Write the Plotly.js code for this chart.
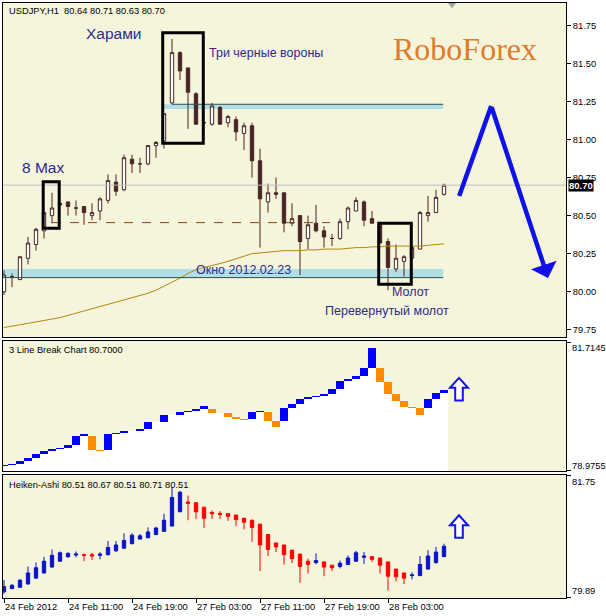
<!DOCTYPE html>
<html><head><meta charset="utf-8">
<script src="https://cdn.plot.ly/plotly-3.0.1.min.js"></script>
<style>html,body{margin:0;padding:0;background:#fff}#chart{width:606px;height:616px}</style>
</head><body><div id="chart"></div>
<script>
// ---- data (USDJPY H1, 56 bars) ----
const barIdx = [0,1,2,3,4,5,6,7,8,9,10,11,12,13,14,15,16,17,18,19,20,21,22,23,24,25,26,27,28,29,30,31,32,33,34,35,36,37,38,39,40,41,42,43,44,45,46,47,48,49,50,51,52,53,54,55];
const timeTickIdx = [0,8,16,24,32,40,48];
const timeLabels = ['24 Feb 2012','24 Feb 11:00','24 Feb 19:00','27 Feb 03:00','27 Feb 11:00','27 Feb 19:00','28 Feb 03:00'];
const priceTicks = [79.75,80.00,80.25,80.50,80.75,81.00,81.25,81.50,81.75];

const candleOpen  = [80.00,80.10,80.08,80.22,80.31,80.40,80.50,80.58,80.59,80.55,80.56,80.50,80.53,80.60,80.72,80.67,80.87,80.84,80.84,80.96,80.99,81.24,81.57,81.47,81.30,81.11,81.10,81.21,81.11,81.13,81.04,81.09,80.86,80.59,80.65,80.65,80.45,80.50,80.35,80.45,80.40,80.35,80.35,80.46,80.53,80.59,80.48,80.44,80.33,80.15,80.20,80.22,80.28,80.50,80.52,80.64];
const candleHigh  = [80.14,80.12,80.23,80.36,80.42,80.52,80.65,80.58,80.59,80.60,80.56,80.58,80.62,80.77,80.77,80.90,80.90,80.88,80.96,80.99,81.17,81.66,81.58,81.47,81.31,81.115,81.24,81.22,81.16,81.15,81.11,81.11,80.94,80.71,80.75,80.65,80.58,80.50,80.50,80.57,80.43,80.38,80.48,80.56,80.62,80.60,80.53,80.46,80.35,80.31,80.24,80.30,80.53,80.63,80.67,80.71];
const candleLow   = [79.98,80.03,80.08,80.18,80.27,80.35,80.45,80.57,80.50,80.50,80.44,80.47,80.47,80.58,80.63,80.66,80.78,80.78,80.83,80.88,80.94,81.23,81.39,81.07,81.10,81.105,81.09,81.10,81.08,80.99,80.93,80.75,80.29,80.52,80.61,80.39,80.43,80.11,80.28,80.39,80.29,80.30,80.34,80.41,80.53,80.43,80.45,80.32,80.01,80.13,80.10,80.22,80.28,80.46,80.52,80.63];
const candleClose = [80.11,80.10,80.23,80.32,80.41,80.52,80.55,80.57,80.56,80.55,80.52,80.52,80.61,80.73,80.66,80.88,80.84,80.84,80.96,80.98,81.17,81.57,81.45,81.31,81.10,81.11,81.22,81.10,81.15,81.05,81.09,80.86,80.61,80.65,80.64,80.45,80.48,80.33,80.44,80.40,80.36,80.35,80.46,80.55,80.60,80.47,80.45,80.32,80.16,80.22,80.23,80.29,80.52,80.52,80.62,80.70];
const movingAvg   = [79.765,79.775,79.785,79.79,79.80,79.81,79.82,79.83,79.845,79.86,79.875,79.89,79.90,79.915,79.93,79.945,79.96,79.975,79.99,80.01,80.035,80.06,80.09,80.12,80.145,80.16,80.17,80.185,80.20,80.215,80.235,80.25,80.255,80.26,80.265,80.27,80.27,80.27,80.275,80.275,80.28,80.28,80.28,80.285,80.29,80.29,80.295,80.295,80.30,80.30,80.30,80.30,80.30,80.305,80.31,80.315];

// 3 line break bricks: start level -> end level (equal = no brick)
const lbFrom = [79.066,79.090,79.108,79.192,79.249,79.334,79.397,79.439,79.466,79.523,79.713,79.713,79.424,79.424,79.755,79.782,79.818,79.818,79.867,80.008,80.008,80.155,80.155,80.219,80.246,80.297,80.297,80.198,80.198,80.113,80.071,80.071,80.219,80.219,80.035,80.035,80.303,80.387,80.493,80.535,80.571,80.604,80.724,80.878,80.935,80.983,81.160,81.160,80.865,80.604,80.465,80.324,80.303,80.303,80.493,80.619];
const lbTo   = [79.090,79.108,79.192,79.249,79.334,79.397,79.439,79.466,79.523,79.713,79.755,79.424,79.397,79.755,79.782,79.818,79.818,79.867,80.008,80.008,80.155,80.155,80.219,80.246,80.297,80.345,80.198,80.198,80.113,80.071,80.050,80.219,80.246,80.035,79.903,80.303,80.387,80.493,80.535,80.571,80.604,80.724,80.878,80.935,80.983,81.160,81.588,80.865,80.604,80.465,80.324,80.303,80.162,80.493,80.619,80.690];

// Heiken-Ashi
const haOpen  = [79.97,80.02,80.04,80.09,80.18,80.26,80.35,80.44,80.51,80.535,80.54,80.54,80.53,80.54,80.60,80.64,80.71,80.78,80.80,80.85,80.90,80.98,81.20,81.35,81.34,81.27,81.19,81.175,81.17,81.15,81.10,81.07,81.01,80.85,80.72,80.69,80.61,80.55,80.44,80.42,80.43,80.38,80.36,80.39,80.44,80.50,80.51,80.49,80.43,80.32,80.26,80.22,80.22,80.32,80.42,80.51];
const haHigh  = [80.15,80.09,80.16,80.36,80.42,80.51,80.62,80.59,80.58,80.59,80.56,80.57,80.58,80.75,80.75,80.87,80.87,80.86,80.96,80.97,81.17,81.58,81.52,81.45,81.34,81.27,81.22,81.21,81.17,81.15,81.11,81.08,81.01,80.85,80.73,80.69,80.61,80.55,80.48,80.56,80.43,80.38,80.45,80.53,80.60,80.58,80.51,80.49,80.43,80.32,80.26,80.27,80.52,80.61,80.66,80.71];
const haLow   = [79.94,80.01,80.03,80.085,80.17,80.25,80.34,80.44,80.49,80.50,80.44,80.46,80.47,80.53,80.58,80.63,80.70,80.78,80.80,80.84,80.89,80.98,81.20,81.07,81.09,80.95,81.09,81.09,81.06,80.98,80.93,80.74,80.29,80.52,80.58,80.39,80.41,80.11,80.25,80.39,80.21,80.29,80.33,80.38,80.43,80.40,80.43,80.25,79.99,80.13,80.09,80.16,80.21,80.31,80.40,80.51];
const haClose = [80.05,80.07,80.15,80.26,80.34,80.44,80.53,80.57,80.56,80.55,80.53,80.52,80.55,80.65,80.69,80.76,80.84,80.83,80.89,80.95,81.07,81.42,81.50,81.33,81.20,81.10,81.17,81.16,81.13,81.08,81.04,80.96,80.69,80.62,80.66,80.54,80.48,80.36,80.39,80.45,80.35,80.34,80.41,80.49,80.57,80.52,80.47,80.38,80.21,80.20,80.18,80.23,80.39,80.52,80.58,80.67];

// ---- styling ----
const BG = '#f5f5dc';
const CANDLE = '#4a2525';
const TXT = '#2d2a8c';
const FONT = 'Liberation Sans, Arial, sans-serif';
const LB_MIN = 78.969, LB_MAX = 81.736;

const lbLow = lbFrom.map((v,i)=>Math.min(v, lbTo[i]));
const lbSize = lbFrom.map((v,i)=>Math.abs(lbTo[i]-v));
const lbColor = lbFrom.map((v,i)=> lbTo[i] >= v ? '#0000ff' : '#ff8c00');

const traces = [
  {type:'candlestick', x:barIdx, open:candleOpen, high:candleHigh, low:candleLow, close:candleClose,
   xaxis:'x', yaxis:'y', whiskerwidth:0, hoverinfo:'skip',
   increasing:{line:{color:CANDLE,width:1}, fillcolor:'#ffffff'},
   decreasing:{line:{color:CANDLE,width:1}, fillcolor:CANDLE}},
  {type:'scatter', mode:'lines', x:barIdx, y:movingAvg, xaxis:'x', yaxis:'y',
   line:{color:'#b8860b', width:1}, hoverinfo:'skip'},
  {type:'bar', x:barIdx, y:lbLow.map(v=>v-78.5), base:78.5, xaxis:'x2', yaxis:'y2',
   marker:{color:'#ffffff', line:{width:0}}, width:1, hoverinfo:'skip'},
  {type:'bar', x:barIdx, y:lbSize, base:lbLow, xaxis:'x2', yaxis:'y2',
   marker:{color:lbColor, line:{width:0}}, width:1, hoverinfo:'skip'},
  {type:'candlestick', x:barIdx, open:haOpen, high:haHigh, low:haLow, close:haClose,
   xaxis:'x3', yaxis:'y3', whiskerwidth:0, hoverinfo:'skip',
   increasing:{line:{color:'#0a14c8',width:1}, fillcolor:'#0a14c8'},
   decreasing:{line:{color:'#ff0000',width:1}, fillcolor:'#ff0000'}}
];

const xBase = {range:[-0.125,70.25], showgrid:false, zeroline:false, showline:true, mirror:true,
  linecolor:'#000', linewidth:1, fixedrange:true, rangeslider:{visible:false}};
const yBase = {side:'right', showgrid:false, zeroline:false, showline:true, mirror:true,
  linecolor:'#000', linewidth:1, ticks:'outside', ticklen:4, tickcolor:'#000', fixedrange:true,
  tickfont:{family:FONT, size:9.3, color:'#000'}};

const shapes = [
  // current price line
  {type:'line', xref:'paper', yref:'y', x0:0, x1:1, y0:80.70, y1:80.70, line:{color:'#c0c0c0', width:1}},
  // gap zone (Окно)
  {type:'rect', xref:'x', yref:'y', x0:-0.125, x1:54.9, y0:80.093, y1:80.150, fillcolor:'#b0e0e6', line:{width:0}, layer:'below'},
  {type:'line', xref:'x', yref:'y', x0:-0.125, x1:54.9, y0:80.093, y1:80.093, line:{color:'#2f4f4f', width:1}},
  // upper zone
  {type:'rect', xref:'x', yref:'y', x0:19.9, x1:54.9, y0:81.200, y1:81.231, fillcolor:'#b0e0e6', line:{width:0}, layer:'below'},
  {type:'line', xref:'x', yref:'y', x0:21, x1:54.9, y0:81.231, y1:81.231, line:{color:'#2f4f4f', width:1}},
  // dashed level
  {type:'line', xref:'x', yref:'y', x0:6, x1:40.75, y0:80.454, y1:80.454, line:{color:'#8b4513', width:1, dash:'dash'}},
  // pattern boxes
  {type:'rect', xref:'x', yref:'y', x0:4.9, x1:6.9, y0:80.417, y1:80.723, line:{color:'#000', width:3}},
  {type:'rect', xref:'x', yref:'y', x0:19.84, x1:24.91, y0:80.975, y1:81.701, line:{color:'#000', width:3}},
  {type:'rect', xref:'x', yref:'y', x0:46.84, x1:50.91, y0:80.049, y1:80.450, line:{color:'#000', width:3}},
  // forecast arrow first leg
  {type:'line', xref:'x', yref:'y', x0:56.9, y0:80.629, x1:60.9, y1:81.22, line:{color:'#1010e8', width:4.5}},
  // small gray marker at top
  {type:'path', xref:'x', yref:'y', path:'M 55.5,81.896 L 56.5,81.896 L 56,81.862 Z', fillcolor:'#a0a0a0', line:{width:0}},
  // hollow up arrows
  {type:'path', xref:'x2', yref:'y2', path:'M 56.875,80.95 L 58,80.74 L 57.35,80.74 L 57.35,80.47 L 56.4,80.47 L 56.4,80.74 L 55.75,80.74 Z',
   fillcolor:'#ffffff', line:{color:'#1414e6', width:2}},
  {type:'path', xref:'x3', yref:'y3', path:'M 56.875,81.146 L 58,80.992 L 57.35,80.992 L 57.35,80.802 L 56.4,80.802 L 56.4,80.992 L 55.75,80.992 Z',
   fillcolor:'#ffffff', line:{color:'#1414e6', width:2}}
];

const small = {family:FONT, size:9.3, color:'#000'};
const ann = (text,x,y,size)=>({text, x, y, xref:'x', yref:'y', showarrow:false, font:{family:FONT, size, color:TXT}});
const annotations = [
  {text:'USDJPY,H1  80.64 80.71 80.63 80.70', xref:'paper', yref:'paper', x:0.0071, y:0.98739, xanchor:'left', yanchor:'middle', showarrow:false, font:small},
  ann('Харами', 13.8, 81.693, 15.5),
  ann('Три черные вороны', 32.75, 81.568, 12.5),
  ann('8 Max', 4.9, 80.819, 15.5),
  ann('Окно 2012.02.23', 29.9, 80.143, 12.5),
  ann('Молот', 50.75, 79.999, 12.5),
  ann('Перевернутый молот', 47.9, 79.874, 12.5),
  {text:'RoboForex', x:57.6, y:81.594, xref:'x', yref:'y', showarrow:false,
   font:{family:'Liberation Serif, Times New Roman, serif', size:32, color:'#e27a2e'}},
  {text:'<b>80.70</b>', xref:'paper', yref:'y', x:1.003, y:80.70, xanchor:'left', yanchor:'middle', showarrow:false,
   bgcolor:'#000', borderpad:0, font:{family:FONT, size:9.5, color:'#fff'}},
  {text:'', xref:'x', yref:'y', x:68, y:80.091, axref:'x', ayref:'y', ax:60.9, ay:81.22,
   showarrow:true, arrowhead:1, arrowsize:1, arrowwidth:4.5, arrowcolor:'#1010e8', standoff:0},
  {text:'3 Line Break Chart 80.7000', xref:'paper', yref:'paper', x:0.0071, y:0.41597, xanchor:'left', yanchor:'middle', showarrow:false, font:small},
  {text:'81.7145', xref:'paper', yref:'paper', x:1.0066, y:0.42017, xanchor:'left', yanchor:'middle', showarrow:false, font:small},
  {text:'78.9755', xref:'paper', yref:'paper', x:1.0066, y:0.22185, xanchor:'left', yanchor:'middle', showarrow:false, font:small},
  {text:'Heiken-Ashi 80.51 80.67 80.51 80.71 80.51', xref:'paper', yref:'paper', x:0.0071, y:0.18908, xanchor:'left', yanchor:'middle', showarrow:false, font:small},
  {text:'81.75', xref:'paper', yref:'paper', x:1.0066, y:0.19496, xanchor:'left', yanchor:'middle', showarrow:false, font:small},
  {text:'79.89', xref:'paper', yref:'paper', x:1.0066, y:0.01176, xanchor:'left', yanchor:'middle', showarrow:false, font:small}
];

const layout = {
  width:606, height:616,
  margin:{l:3, r:40, t:3, b:18},
  paper_bgcolor:'#ffffff', plot_bgcolor:BG,
  showlegend:false, barmode:'overlay', bargap:0, boxgap:0.4,
  font:{family:FONT, size:9.3, color:'#000'},
  xaxis: Object.assign({}, xBase, {domain:[0,1], anchor:'y', showticklabels:false, ticks:''}),
  yaxis: Object.assign({}, yBase, {domain:[0.43866,1], anchor:'x', range:[79.703,81.896],
          tickvals:priceTicks, ticktext:priceTicks.map(v=>v.toFixed(2))}),
  xaxis2: Object.assign({}, xBase, {domain:[0,1], anchor:'y2', showticklabels:false, ticks:''}),
  yaxis2: Object.assign({}, yBase, {domain:[0.21345,0.43193], anchor:'x2', range:[LB_MIN,LB_MAX],
          tickvals:[81.7145,78.9755], ticktext:['','']}),
  xaxis3: Object.assign({}, xBase, {domain:[0,1], anchor:'y3', tickvals:timeTickIdx, ticktext:timeLabels,
          ticks:'outside', ticklen:4, tickcolor:'#000', ticklabelposition:'outside right',
          tickfont:{family:FONT, size:9.3, color:'#000'}}),
  yaxis3: Object.assign({}, yBase, {domain:[0,0.20672], anchor:'x3', range:[79.875,81.765],
          tickvals:[81.75,79.89], ticktext:['','']}),
  shapes, annotations
};

Plotly.newPlot('chart', traces, layout, {staticPlot:true, displayModeBar:false});
</script>
</body></html>
